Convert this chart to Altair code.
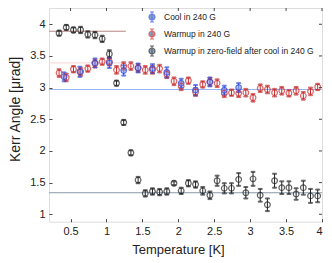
import altair as alt
import pandas as pd

# ---- data ----
T_cool = [0.41, 0.63, 0.84, 1.04, 1.24, 1.44, 1.64, 1.84, 2.04, 2.24, 2.44, 2.64, 2.84]
K_cool = [3.17, 3.25, 3.39, 3.39, 3.27, 3.31, 3.30, 3.24, 3.07, 2.96, 3.09, 2.96, 3.00]
E_cool = [0.07, 0.08, 0.07, 0.08, 0.08, 0.07, 0.07, 0.08, 0.07, 0.08, 0.07, 0.07, 0.07]

T_warm = [0.34, 0.44, 0.54, 0.64, 0.74, 0.84, 0.94, 1.04, 1.14, 1.24, 1.34, 1.44, 1.54,
          1.64, 1.74, 1.84, 1.94, 2.04, 2.14, 2.24, 2.34, 2.44, 2.54, 2.64, 2.74, 2.84,
          2.94, 3.04, 3.14, 3.24, 3.34, 3.44, 3.54, 3.64, 3.74, 3.84, 3.94]
K_warm = [3.23, 3.16, 3.29, 3.25, 3.30, 3.38, 3.41, 3.41, 3.28, 3.34, 3.34, 3.31, 3.28,
          3.28, 3.30, 3.21, 3.10, 3.02, 3.11, 2.93, 3.05, 3.09, 3.07, 2.91, 2.92, 2.91,
          2.92, 2.84, 2.99, 2.97, 2.92, 2.95, 2.91, 2.95, 2.87, 2.94, 3.01]
E_warm = [0.06, 0.06, 0.05, 0.06, 0.05, 0.06, 0.05, 0.06, 0.06, 0.06, 0.06, 0.06, 0.06,
          0.06, 0.06, 0.06, 0.06, 0.06, 0.05, 0.06, 0.05, 0.06, 0.06, 0.06, 0.05, 0.06,
          0.06, 0.06, 0.06, 0.06, 0.06, 0.06, 0.05, 0.06, 0.06, 0.06, 0.05]

T_zf = T_warm
K_zf = [3.86, 3.95, 3.91, 3.91, 3.84, 3.83, 3.77, 3.53, 3.07, 2.45, 1.97, 1.54, 1.33,
        1.36, 1.35, 1.36, 1.49, 1.37, 1.49, 1.47, 1.37, 1.30, 1.53, 1.41, 1.41, 1.55,
        1.34, 1.56, 1.30, 1.15, 1.53, 1.42, 1.42, 1.32, 1.42, 1.29, 1.29]
E_zf = [0.04, 0.04, 0.04, 0.05, 0.05, 0.05, 0.05, 0.06, 0.04, 0.04, 0.04, 0.05, 0.05,
        0.05, 0.05, 0.05, 0.03, 0.05, 0.05, 0.05, 0.06, 0.06, 0.08, 0.08, 0.08, 0.10,
        0.09, 0.11, 0.10, 0.10, 0.11, 0.10, 0.10, 0.09, 0.11, 0.11, 0.10]

S_cool = "Cool in 240 G"
S_warm = "Warmup in 240 G"
S_zf = "Warmup in zero-field after cool in 240 G"
series_names = [S_cool, S_warm, S_zf]
series_colors = ["#2a48e0", "#cc2828", "#222222"]
cool_fill = "#8aa2f2"

# reference lines
H_y = [3.89, 3.39, 2.97, 1.34]
H_x0 = [0.2, 0.2, 0.2, 0.2]
H_x1 = [1.27, 1.27, 4.0, 4.0]
H_col = ["#b88484", "#f6d4d4", "#98b4f4", "#8a9aaa"]

x_ticks = [0.5, 1, 1.5, 2, 2.5, 3, 3.5, 4]
y_ticks = [1, 1.5, 2, 2.5, 3, 3.5, 4]

rows = []
for name, Ts, Ks, Es in [(S_warm, T_warm, K_warm, E_warm),
                         (S_cool, T_cool, K_cool, E_cool),
                         (S_zf, T_zf, K_zf, E_zf)]:
    for t, k, e in zip(Ts, Ks, Es):
        rows.append({"T": t, "K": k, "lo": k - e, "hi": k + e, "series": name})
df = pd.DataFrame(rows)

W, H = 273, 213.7
xs = alt.Scale(domain=[0.2, 4.0], nice=False, zero=False)
ys = alt.Scale(domain=[0.883, 4.257], nice=False, zero=False)
stroke_scale = alt.Scale(domain=series_names, range=series_colors)

xax = alt.Axis(values=x_ticks, format="~g", title="Temperature [K]", grid=False,
               domain=False, offset=-3, tickSize=3, tickColor="#444",
               labelPadding=4, labelFontSize=11, labelColor="#222", labelOverlap=False,
               titleFontSize=13, titleFontWeight="normal", titleColor="#222",
               titlePadding=7, titleX=129)
yax = alt.Axis(values=y_ticks, format="~g", title="Kerr Angle [\u03bcrad]", grid=False,
               domain=False, offset=-3, tickSize=3, tickColor="#444",
               labelPadding=4, labelFontSize=11, labelColor="#222", labelOverlap=False,
               titleFontSize=14, titleFontWeight="normal", titleColor="#222",
               titlePadding=7, titleY=101)

sym = ("M-0.6,0A0.6,0.6,0,1,1,0.6,0A0.6,0.6,0,1,1,-0.6,0Z"
       "M0,-1L0,1M-0.4,-1L0.4,-1M-0.4,1L0.4,1")
leg = alt.Legend(title=None, orient="none", legendX=97, legendY=3,
                 symbolType=sym, symbolSize=100, symbolStrokeWidth=1.2,
                 symbolFillColor="transparent",
                 labelFontSize=8.5, labelColor="#222", labelOffset=6,
                 rowPadding=1, padding=0, labelLimit=400)


def X(f):
    return alt.X(f, scale=xs, axis=xax)


def Y(f):
    return alt.Y(f, scale=ys, axis=yax)


def S():
    return alt.Stroke("series:N", scale=stroke_scale, legend=leg)


hlayers = []
for i in range(len(H_y)):
    hd = pd.DataFrame({"y": [H_y[i]], "x0": [H_x0[i]], "x1": [H_x1[i]]})
    hlayers.append(alt.Chart(hd).mark_rule(strokeWidth=1).encode(
        x=X("x0:Q"), x2="x1:Q", y=Y("y:Q"), stroke=alt.value(H_col[i])))

base = alt.Chart(df)
bars = base.mark_rule(strokeWidth=1).encode(x=X("T:Q"), y=Y("lo:Q"), y2="hi:Q", stroke=S())
cap_lo = base.mark_tick(orient="horizontal", size=4, thickness=1).encode(
    x=X("T:Q"), y=Y("lo:Q"), stroke=S())
cap_hi = base.mark_tick(orient="horizontal", size=4, thickness=1).encode(
    x=X("T:Q"), y=Y("hi:Q"), stroke=S())
blue_fill = base.transform_filter(alt.datum.series == S_cool).mark_point(
    shape="circle", size=32, filled=True, color=cool_fill, opacity=0.6).encode(
    x=X("T:Q"), y=Y("K:Q"))
points = base.mark_point(shape="circle", size=32, strokeWidth=1.2, filled=False).encode(
    x=X("T:Q"), y=Y("K:Q"), stroke=S())

tdf_x = pd.DataFrame({"v": x_ticks})
tdf_y = pd.DataFrame({"v": y_ticks})
top_ticks = alt.Chart(tdf_x).mark_rule(color="#444", strokeWidth=1).encode(
    x=X("v:Q"), y=alt.value(0), y2=alt.value(3))
right_ticks = alt.Chart(tdf_y).mark_rule(color="#444", strokeWidth=1).encode(
    y=Y("v:Q"), x=alt.value(W), x2=alt.value(W - 3))

chart = alt.layer(*hlayers, bars, cap_lo, cap_hi, blue_fill, points, top_ticks, right_ticks).properties(
    width=W, height=H,
    autosize=alt.AutoSizeParams(type="none"),
    padding={"left": 41, "top": 0, "right": 2, "bottom": 41},
).configure_view(stroke="#555", strokeWidth=1).configure(font="Liberation Sans")

chart.save("out.html", embed_options={"renderer": "svg", "actions": False})
